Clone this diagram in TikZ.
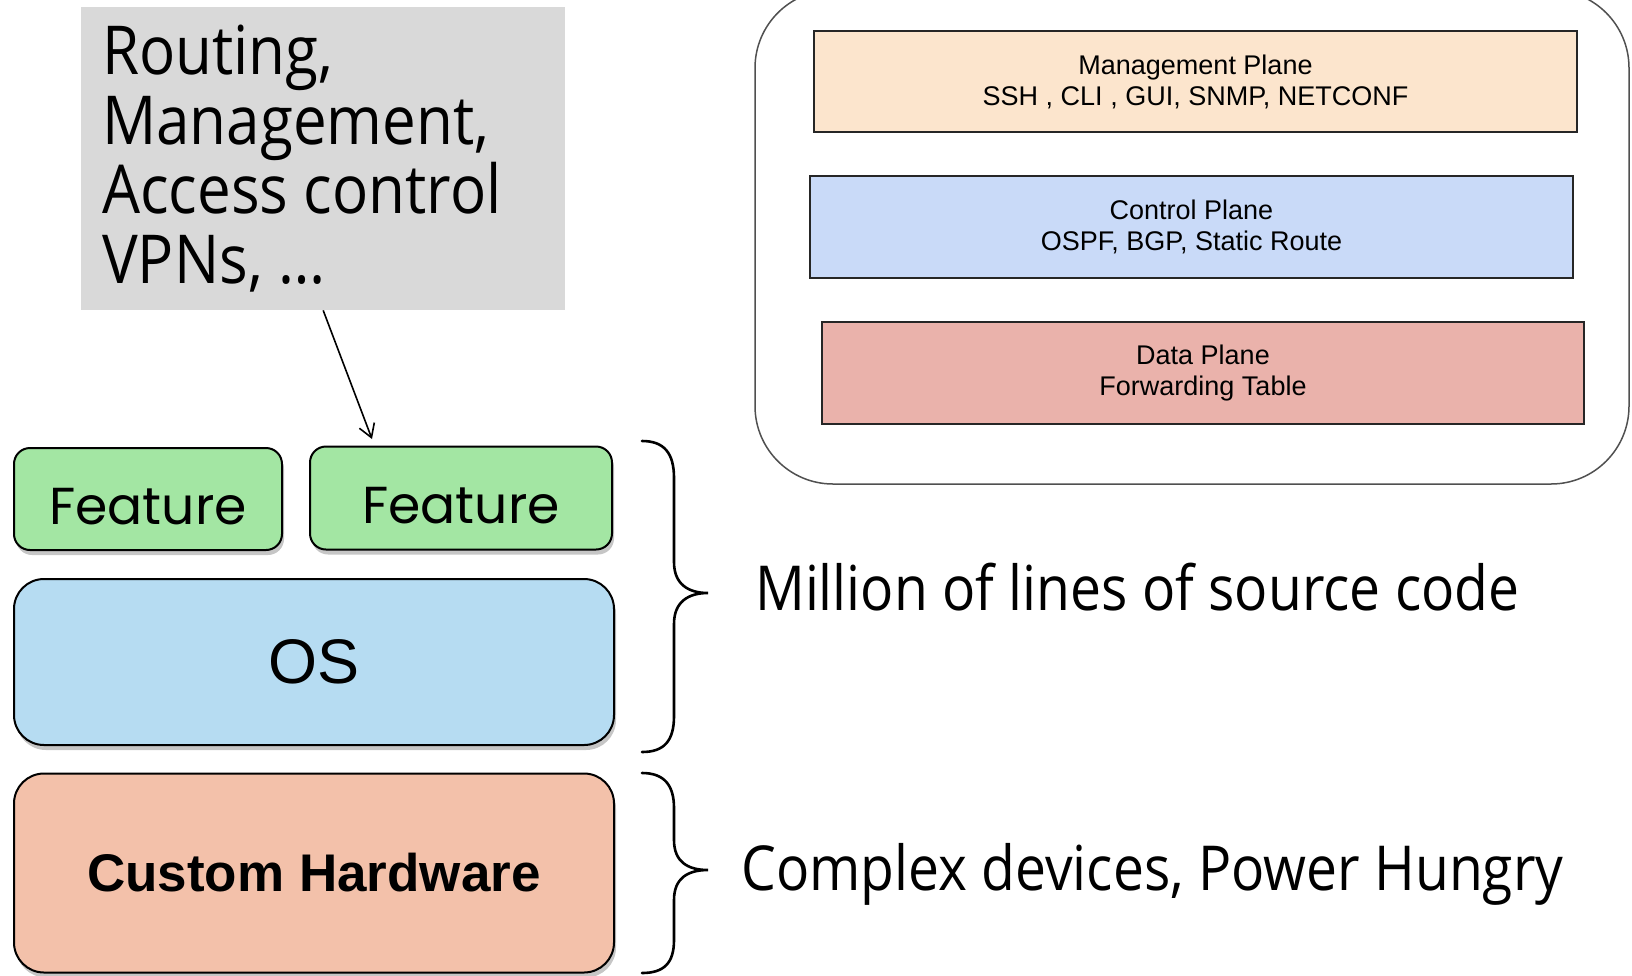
\documentclass[tikz,border=0pt]{standalone}
\usepackage{fontspec}
\setmainfont{Liberation Sans}
\newfontfamily\uifont{Open Sans}[FakeStretch=0.89]
\newfontfamily\geofont{Poppins}
\usetikzlibrary{arrows.meta,shadows}

\definecolor{graybg}{HTML}{D9D9D9}
\definecolor{featgreen}{HTML}{A3E6A3}
\definecolor{osblue}{HTML}{B6DCF2}
\definecolor{hwsalmon}{HTML}{F3C1AA}
\definecolor{mgmtpeach}{HTML}{FCE5CD}
\definecolor{ctrlblue}{HTML}{C9DAF8}
\definecolor{datared}{HTML}{EAB2AB}
\definecolor{frame}{HTML}{505050}

\tikzset{
  layerbox/.style={draw=black, line width=2pt, inner sep=0pt,
    drop shadow={shadow xshift=2pt, shadow yshift=-5pt, opacity=0.45}},
  featbox/.style={layerbox, fill=featgreen, rounded corners=16pt,
    text height=50pt, text depth=0pt,
    font=\geofont\fontsize{52}{55}\selectfont},
  bigbox/.style={layerbox, rounded corners=30pt},
  planebox/.style={draw=black!85, line width=1.2pt, inner sep=0pt,
    align=center, font=\fontsize{27}{31}\selectfont},
  bracestroke/.style={draw=black, line width=2.6pt, line cap=round},
  sidenote/.style={anchor=base west, inner sep=0pt,
    font=\uifont\fontsize{62}{66}\selectfont},
}

\begin{document}
\begin{tikzpicture}[x=1pt, y=-1pt]
\useasboundingbox (0,0) rectangle (1632,975);

% feature list box with arrow into the feature layer
\node[fill=graybg, minimum width=484pt, minimum height=303pt, inner sep=0pt,
      anchor=north west] (gray) at (81,7) {};
% multi-line node: its base anchor sits on the last line
\node[anchor=base west, align=left, inner sep=0pt,
      font=\uifont\fontsize{67.5}{69.5}\selectfont] (features) at (102,283)
  {Routing,\\Management,\\Access control\\VPNs, \dots};

% the router software/hardware stack
\node[featbox, minimum width=268pt, minimum height=102pt] (feat1) at (148,499) {Feature};
\node[featbox, minimum width=302pt, minimum height=103pt] (feat2) at (461,498) {Feature};
\node[bigbox, fill=osblue, minimum width=600pt, minimum height=166pt,
      font=\fontsize{63}{66}\selectfont] (os) at (314,662) {OS};
\node[bigbox, fill=hwsalmon, minimum width=600pt, minimum height=199pt,
      font=\bfseries\fontsize{53}{56}\selectfont] (hw) at (314,873) {Custom Hardware};

\coordinate (feattip) at (372,439);
\draw[line width=1.6pt, -{Straight Barb[length=13pt, width=16pt, line width=1.6pt]}]
  (gray.south) -- (feattip);

% braces and their notes
\draw[bracestroke] (642,441) .. controls (664,441) and (674,453) .. (674,478)
  -- (674,562) .. controls (674,584) and (688,593) .. (708,593)
  .. controls (688,593) and (674,602) .. (674,624)
  -- (674,716) .. controls (674,741) and (664,752) .. (642,752);
\draw[bracestroke] (642,773) .. controls (664,773) and (674,785) .. (674,808)
  -- (674,840) .. controls (674,862) and (688,870) .. (708,870)
  .. controls (688,870) and (674,878) .. (674,900)
  -- (674,940) .. controls (674,963) and (664,973) .. (642,973);

\node[sidenote] (loc) at (755,610) {Million of lines of source code};
\node[sidenote] (power) at (741,890) {Complex devices, Power Hungry};

% the three planes of a router
\draw[frame, line width=1.5pt, rounded corners=78pt] (755,-10) rectangle (1629,484);
\node[planebox, fill=mgmtpeach, minimum width=763pt, minimum height=101pt] (mgmt)
  at (1195.5,81.5) {Management Plane\\SSH , CLI , GUI, SNMP, NETCONF};
\node[planebox, fill=ctrlblue, minimum width=763pt, minimum height=102pt] (ctrl)
  at (1191.5,227) {Control Plane\\OSPF, BGP, Static Route};
\node[planebox, fill=datared, minimum width=762pt, minimum height=102pt] (data)
  at (1203,373) {Data Plane\\Forwarding Table};
\end{tikzpicture}
\end{document}
